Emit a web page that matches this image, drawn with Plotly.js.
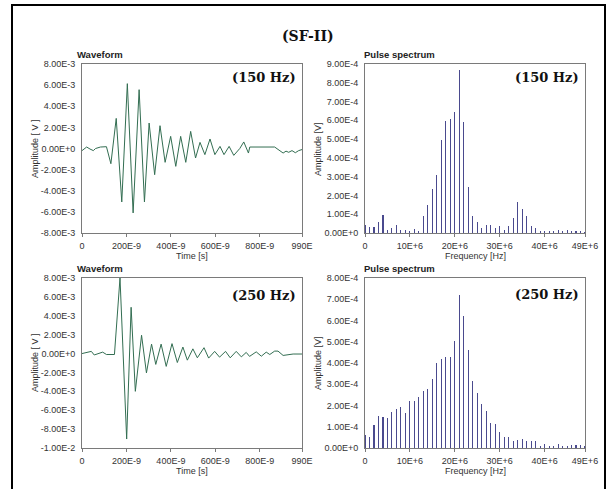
<!DOCTYPE html>
<html>
<head>
<meta charset="utf-8">
<script src="https://cdn.plot.ly/plotly-3.0.1.min.js"></script>
<style>html,body{margin:0;padding:0;background:#fff;}#chart{width:616px;height:489px;}</style>
</head>
<body>
<div id="chart"></div>
<script>
// ---- Waveform (150 Hz): vertices, time in ns, amplitude in mV
const wave150_t = [0,21,36,51,61,83,110,130,154,179,204,230,257,281,302,327,351,374,399,422,444,467,489,511,531,553,576,598,621,639,662,683,710,728,749,755,867,885,905,918,930,945,960,975,990];
const wave150_v = [-0.2,0.14,-0.05,-0.2,0.0,0.14,0.17,-1.44,2.85,-5.06,6.14,-6.1,5.57,-5.06,2.41,-2.48,2.16,-1.31,1.15,-1.69,1.15,-1.31,1.62,-0.9,0.58,-0.58,0.9,-0.58,0.2,-0.58,0.2,-0.65,0.0,0.62,-0.43,0.14,0.14,-0.15,-0.43,-0.25,-0.36,-0.2,-0.4,-0.2,-0.1];

// ---- Waveform (250 Hz)
const wave250_t = [0,42,55,75,93,110,146,171,201,221,240,268,290,313,332,356,379,405,429,454,474,499,519,549,570,597,619,646,667,694,717,739,754,784,807,829,845,867,882,905,927,950,990];
const wave250_v = [0,0.23,-0.15,0.0,0.15,-0.1,-0.1,8.0,-9.05,4.9,-4.0,1.94,-2.05,1.0,-1.15,1.0,-1.36,1.05,-0.95,0.69,-0.7,0.5,-0.45,0.62,-0.48,0.23,-0.38,0.23,-0.45,0.23,-0.35,0.12,-0.3,0.18,-0.28,0.15,-0.1,0.26,0.26,-0.2,-0.1,-0.05,-0.05];

// ---- Pulse spectra: frequency in MHz, amplitude in 1E-4 V
const freqMHz = [0,1,2,3,4,5,6,7,8,9,10,11,12,13,14,15,16,17,18,19,20,21,22,23,24,25,26,27,28,29,30,31,32,33,34,35,36,37,38,39,40,41,42,43,44,45,46,47,48,49];
const spec150 = [0.45,0.31,0.3,0.61,0.97,0.17,0.26,0.4,0.18,0.18,0.13,0.23,0.12,0.89,1.5,2.35,3.1,4.95,5.94,6.06,6.46,8.7,5.9,2.44,0.91,0.6,0.25,0.42,0.42,0.25,0.35,0.18,0.38,0.8,1.65,1.3,0.88,0.38,0.25,0.1,0.1,0.1,0.12,0.15,0.1,0.15,0.1,0.1,0.1,0.08];
const spec250 = [0.6,0.52,1.08,1.5,1.47,1.41,1.71,1.82,1.95,1.66,2.19,2.23,2.41,2.66,2.8,3.26,4.0,4.18,4.26,4.26,5.02,7.21,6.23,4.6,3.14,2.61,2.09,1.76,1.19,1.14,0.74,0.51,0.51,0.35,0.36,0.44,0.33,0.35,0.32,0.11,0.19,0.11,0.08,0.19,0.11,0.11,0.14,0.14,0.13,0.1];

// ---- Tick labels
const waveTickVals = [0,200,400,600,800,990];
const waveTickText = ["0","200E-9","400E-9","600E-9","800E-9","990E"];
const specTickVals = [0,10,20,30,40,49];
const specTickText = ["0","10E+6","20E+6","30E+6","40E+6","49E+6"];
const wave150YVals = [-8,-6,-4,-2,0,2,4,6,8];
const wave150YText = ["-8.00E-3","-6.00E-3","-4.00E-3","-2.00E-3","0.00E+0","2.00E-3","4.00E-3","6.00E-3","8.00E-3"];
const wave250YVals = [-10,-8,-6,-4,-2,0,2,4,6,8];
const wave250YText = ["-1.00E-2","-8.00E-3","-6.00E-3","-4.00E-3","-2.00E-3","0.00E+0","2.00E-3","4.00E-3","6.00E-3","8.00E-3"];
const spec150YVals = [0,1,2,3,4,5,6,7,8,9];
const spec150YText = ["0.00E+0","1.00E-4","2.00E-4","3.00E-4","4.00E-4","5.00E-4","6.00E-4","7.00E-4","8.00E-4","9.00E-4"];
const spec250YVals = [0,1,2,3,4,5,6,7,8];
const spec250YText = ["0.00E+0","1.00E-4","2.00E-4","3.00E-4","4.00E-4","5.00E-4","6.00E-4","7.00E-4","8.00E-4"];

const W = 616, H = 489;
const px = v => v / W;
const py = v => 1 - v / H;

const ns = a => a.map(t => t * 1e-9);
const mv = a => a.map(v => v * 1e-3);
const mhz = a => a.map(f => f * 1e6);
const e4 = a => a.map(v => v * 1e-4);

const waveColor = '#336e52';
const barColor = '#4a4a8e';

const traces = [
  {type:'scatter', mode:'lines', x: ns(wave150_t), y: mv(wave150_v), xaxis:'x', yaxis:'y', line:{color:waveColor, width:1}},
  {type:'bar', x: mhz(freqMHz), y: e4(spec150), xaxis:'x2', yaxis:'y2', width:0.24e6, marker:{color:barColor, line:{width:0}}},
  {type:'scatter', mode:'lines', x: ns(wave250_t), y: mv(wave250_v), xaxis:'x3', yaxis:'y3', line:{color:waveColor, width:1}},
  {type:'bar', x: mhz(freqMHz), y: e4(spec250), xaxis:'x4', yaxis:'y4', width:0.24e6, marker:{color:barColor, line:{width:0}}}
];

const tickFont = {family:'Liberation Sans, Arial, sans-serif', size:9, color:'#333'};
function xa(domain, anchor, range, vals, text){
  return {domain, anchor, range, tickmode:'array', tickvals:vals, ticktext:text,
    ticks:'outside', ticklen:3, tickcolor:'#7a7a7a', showline:true, mirror:true, linecolor:'#7a7a7a', linewidth:1,
    showgrid:false, zeroline:false, tickfont:tickFont, fixedrange:true, ticklabelstandoff:1};
}
function ya(domain, anchor, range, vals, text){
  return {domain, anchor, range, tickmode:'array', tickvals:vals, ticktext:text,
    ticks:'', showline:true, mirror:true, linecolor:'#7a7a7a', linewidth:1,
    showgrid:false, zeroline:false, tickfont:tickFont, fixedrange:true, ticklabelstandoff:4};
}

const xL = [px(82), px(302)], xR = [px(365), px(585)];
const yT = [py(233), py(64)], yB = [py(448), py(278)];

const axTitleFont = {family:'Liberation Sans, Arial, sans-serif', size:9, color:'#333'};
const subFont = {family:'Liberation Sans, Arial, sans-serif', size:9.5, color:'#222'};
const hzFont = {family:'DejaVu Serif, serif', size:13, color:'#111'};

function ann(text, x, y, opts){
  return Object.assign({text, x:px(x), y:py(y), xref:'paper', yref:'paper', showarrow:false, xanchor:'center', yanchor:'middle'}, opts||{});
}

const annotations = [
  ann('<b>(SF-II)</b>', 308, 36, {font:{family:'DejaVu Serif, serif', size:14, color:'#111'}}),
  ann('<b>Waveform</b>', 75, 55, {xanchor:'left', font:subFont}),
  ann('<b>Pulse spectrum</b>', 362, 55, {xanchor:'left', font:subFont}),
  ann('<b>Waveform</b>', 75, 268, {xanchor:'left', font:subFont}),
  ann('<b>Pulse spectrum</b>', 362, 268, {xanchor:'left', font:subFont}),
  ann('<b>(150 Hz)</b>', 298, 77, {xanchor:'right', font:hzFont}),
  ann('<b>(150 Hz)</b>', 581, 77, {xanchor:'right', font:hzFont}),
  ann('<b>(250 Hz)</b>', 298, 295, {xanchor:'right', font:hzFont}),
  ann('<b>(250 Hz)</b>', 581, 294, {xanchor:'right', font:hzFont}),
  ann('Amplitude [ V ]', 35, 149, {textangle:-90, font:axTitleFont}),
  ann('Amplitude [V]', 318, 149, {textangle:-90, font:axTitleFont}),
  ann('Amplitude [ V ]', 35, 363, {textangle:-90, font:axTitleFont}),
  ann('Amplitude [V]', 318, 363, {textangle:-90, font:axTitleFont}),
  ann('Time [s]', 192, 256, {font:axTitleFont}),
  ann('Frequency [Hz]', 475, 256, {font:axTitleFont}),
  ann('Time [s]', 192, 471, {font:axTitleFont}),
  ann('Frequency [Hz]', 475, 471, {font:axTitleFont})
];

const layout = {
  width: W, height: H,
  margin:{l:0, r:0, t:0, b:0, pad:0},
  paper_bgcolor:'#ffffff', plot_bgcolor:'#ffffff',
  showlegend:false,
  bargap:0,
  xaxis: xa(xL, 'y', [0, 990e-9], waveTickVals.map(v=>v*1e-9), waveTickText),
  yaxis: ya(yT, 'x', [-8e-3, 8e-3], wave150YVals.map(v=>v*1e-3), wave150YText),
  xaxis2: xa(xR, 'y2', [0, 49e6], specTickVals.map(v=>v*1e6), specTickText),
  yaxis2: ya(yT, 'x2', [0, 9e-4], spec150YVals.map(v=>v*1e-4), spec150YText),
  xaxis3: xa(xL, 'y3', [0, 990e-9], waveTickVals.map(v=>v*1e-9), waveTickText),
  yaxis3: ya(yB, 'x3', [-1e-2, 8e-3], wave250YVals.map(v=>v*1e-3), wave250YText),
  xaxis4: xa(xR, 'y4', [0, 49e6], specTickVals.map(v=>v*1e6), specTickText),
  yaxis4: ya(yB, 'x4', [0, 8e-4], spec250YVals.map(v=>v*1e-4), spec250YText),
  annotations,
  shapes:[
    {type:'rect', xref:'paper', yref:'paper', x0:px(12), x1:px(605), y0:py(500), y1:py(5), line:{color:'#000', width:2}, fillcolor:'rgba(0,0,0,0)'}
  ]
};

Plotly.newPlot('chart', traces, layout, {displayModeBar:false, staticPlot:true});
</script>
</body>
</html>
